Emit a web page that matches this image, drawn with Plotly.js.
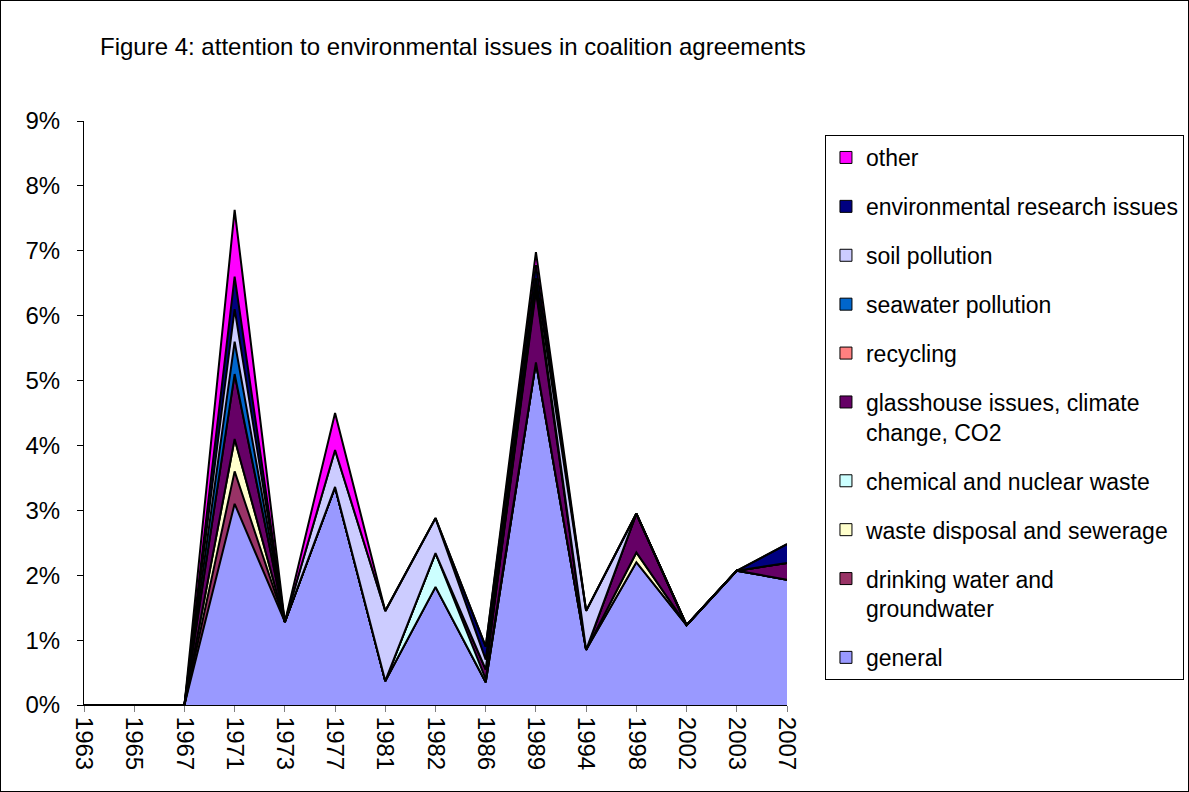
<!DOCTYPE html>
<html>
<head>
<meta charset="utf-8">
<script src="https://cdn.plot.ly/plotly-3.0.1.min.js"></script>
<style>
  html, body { margin: 0; padding: 0; background: #fff; }
  #chart { width: 1187px; height: 790px; border: 1px solid #000; }
</style>
</head>
<body>
<div id="chart"></div>
<script>
// Data (percent of coalition agreement text)
const years = ['1963','1965','1967','1971','1973','1977','1981','1982','1986','1989','1994','1998','2002','2003','2007'];
const general      = [0,0,0,3.10,1.28,3.36,0.37,1.82,0.35,5.28,0.85,2.20,1.23,2.07,1.93];
const drinking     = [0,0,0,0.50,0,0,0,0,0,0,0,0,0,0,0];
const wasteDisp    = [0,0,0,0.50,0,0,0,0,0,0,0,0.15,0,0,0];
const chemical     = [0,0,0,0,0,0,0,0.52,0.05,0,0,0,0,0,0];
const glasshouse   = [0,0,0,1.00,0,0,0,0,0.15,1.10,0,0.60,0,0,0.26];
const recycling    = [0,0,0,0,0,0,0,0,0,0.05,0,0,0,0,0];
const seawater     = [0,0,0,0.50,0,0,0,0,0,0.05,0,0,0,0,0];
const soil         = [0,0,0,0.50,0,0.57,1.08,0.54,0.15,0.10,0.60,0,0,0,0];
const envResearch  = [0,0,0,0.50,0,0,0,0,0.20,0.20,0,0,0,0,0.29];
const other        = [0,0,0,1.03,0,0.57,0,0,0,0.20,0,0,0,0,0];

const seriesNames = ['general','drinking water and<br>groundwater','waste disposal and sewerage','chemical and nuclear waste',
  'glasshouse issues, climate<br>change, CO2','recycling','seawater pollution','soil pollution',
  'environmental research issues','other'];
const seriesValues = [general, drinking, wasteDisp, chemical, glasshouse, recycling, seawater, soil, envResearch, other];
const seriesColors = ['#9999FF','#993366','#FFFFCC','#CCFFFF','#660066','#FF8080','#0066CC','#CCCCFF','#000080','#FF00FF'];

const traces = [];
seriesValues.forEach((vals, i) => {
  traces.push({
    type: 'scatter', mode: 'lines', x: years, y: vals,
    stackgroup: 'one', fill: 'tonexty',
    fillcolor: seriesColors[i],
    line: { color: '#000000', width: 2 },
    name: seriesNames[i].replace('<br>', ' '),
    showlegend: false, hoverinfo: 'x+y+name'
  });
});
// legend entries (square swatches, top-to-bottom in reverse stacking order)
for (let i = seriesValues.length - 1; i >= 0; i--) {
  traces.push({
    type: 'scatter', mode: 'markers', x: [null], y: [null],
    name: seriesNames[i], legendgroup: 'g' + i,
    marker: { symbol: 'square', size: 12, color: seriesColors[i], line: { color: '#000', width: 1 } },
    hoverinfo: 'skip'
  });
}

const font = { family: 'Liberation Sans, Arial, sans-serif', color: '#000' };

const layout = {
  width: 1187, height: 790,
  margin: { l: 83, r: 401, t: 120, b: 86, autoexpand: false },
  paper_bgcolor: '#ffffff', plot_bgcolor: '#ffffff',
  font: Object.assign({ size: 24 }, font),
  title: {
    text: 'Figure 4: attention to environmental issues in coalition agreements',
    font: Object.assign({ size: 24 }, font),
    xref: 'container', yref: 'container',
    x: 0.0834, xanchor: 'left', y: 0.942, yanchor: 'middle'
  },
  xaxis: {
    type: 'category', range: [0, years.length - 1],
    showline: true, linecolor: '#000', linewidth: 1,
    ticks: 'outside', ticklen: 6, tickcolor: '#808080', tickwidth: 1,
    tickangle: 90, showgrid: false, zeroline: false,
    tickfont: Object.assign({ size: 24 }, font)
  },
  yaxis: {
    range: [0, 9], dtick: 1, ticksuffix: '%',
    showline: true, linecolor: '#000', linewidth: 1,
    ticks: 'outside', ticklen: 6, tickcolor: '#000', tickwidth: 1,
    ticklabelstandoff: 12,
    showgrid: false, zeroline: false,
    tickfont: Object.assign({ size: 24 }, font)
  },
  showlegend: true,
  legend: {
    x: 1.054, xanchor: 'left', y: 0.976, yanchor: 'top',
    traceorder: 'grouped', tracegroupgap: 16,
    valign: 'top',
    bgcolor: '#ffffff', bordercolor: '#000', borderwidth: 1,
    font: Object.assign({ size: 23 }, font),
    itemwidth: 30
  }
};

Plotly.newPlot('chart', traces, layout, { staticPlot: true, displayModeBar: false });
</script>
</body>
</html>
